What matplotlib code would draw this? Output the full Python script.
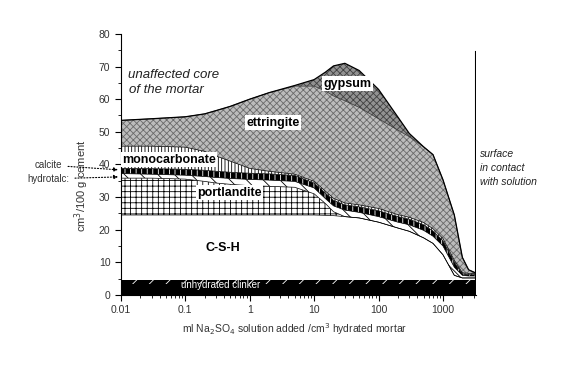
#sulfate attack on mortar: phase assemblage vs amount of Na2SO4 solution added

import matplotlib.pyplot as plt
from matplotlib.ticker import LogLocator, FixedLocator, NullFormatter, MultipleLocator

plt.rcParams['font.family'] = ['Liberation Sans', 'DejaVu Sans']
plt.rcParams['hatch.linewidth'] = 0.6

# ml Na2SO4 solution added / cm3 hydrated mortar
x = [0.01, 0.03, 0.1, 0.2, 0.3, 0.5, 1, 2, 5, 10, 15, 20, 30, 50, 100, 200,
     300, 500, 700, 1000, 1500, 2000, 2500, 3250]

# cumulative top of each phase, cm3/100 g cement
clinker_top = [4.7] * len(x)
csh_top = [24.5, 24.5, 24.5, 24.5, 24.5, 24.5, 24.5, 24.5, 24.5, 24.5, 24.4, 24.3,
           24.0, 23.6, 22.3, 20.5, 19.5, 17.5, 15.8, 12.3, 6.0, 5.2, 5.2, 5.2]
portl_top = [35.8, 35.8, 35.5, 34.8, 34.3, 33.9, 33.5, 33.3, 33.0, 31.0, 28.0, 25.5,
             24.0, 23.6, 22.3, 20.5, 19.5, 17.5, 15.8, 12.3, 6.0, 5.2, 5.2, 5.2]
hydro_top = [37.2, 37.0, 36.7, 36.3, 36.0, 35.7, 35.4, 35.2, 34.8, 32.8, 29.5, 27.3,
             26.0, 25.3, 24.0, 22.3, 21.5, 19.8, 18.0, 15.0, 8.5, 6.0, 5.8, 5.8]
calc_top = [38.8, 38.7, 38.5, 38.2, 37.9, 37.6, 37.3, 37.1, 36.6, 34.3, 31.2, 29.0,
            27.6, 27.0, 25.8, 24.0, 23.2, 21.5, 19.6, 16.6, 10.0, 6.5, 6.2, 6.2]
mono_top = [45.6, 45.6, 45.3, 44.0, 42.6, 41.0, 38.8, 37.9, 37.0, 34.8, 31.8, 29.6,
            28.2, 27.6, 26.5, 24.6, 23.8, 22.2, 20.3, 17.3, 10.6, 6.8, 6.6, 6.6]
ettr_top = [53.5, 54.0, 54.6, 55.5, 56.5, 57.8, 60.0, 62.0, 64.0, 64.0, 62.5, 61.0,
            59.5, 57.5, 54.0, 50.5, 48.5, 45.4, 43.0, 35.3, 24.5, 11.5, 7.7, 6.7]
gyps_top = [53.5, 54.0, 54.6, 55.5, 56.5, 57.8, 60.0, 62.0, 64.2, 66.0, 68.3, 70.2,
            71.0, 68.8, 63.0, 54.5, 49.5, 45.4, 43.0, 35.3, 24.5, 11.5, 7.7, 6.7]

fig = plt.figure(figsize=(5.7, 3.65), dpi=100)
ax = fig.add_axes([0.212, 0.192, 0.623, 0.715])

zero = [0] * len(x)
strip = [v - 1.4 for v in clinker_top]

# unhydrated clinker
ax.fill_between(x, zero, clinker_top, facecolor='black', lw=0)
ax.fill_between(x, strip, clinker_top, facecolor='black', edgecolor='white', hatch='//', lw=0)
# C-S-H
ax.fill_between(x, clinker_top, csh_top, facecolor='white', lw=0)
# portlandite
ax.fill_between(x, csh_top, portl_top, facecolor='white', edgecolor='black', hatch='+++', lw=0)
# hydrotalcite
ax.fill_between(x, portl_top, hydro_top, facecolor='white', edgecolor='black', hatch='\\\\', lw=0)
# calcite
ax.fill_between(x, hydro_top, calc_top, facecolor='black', edgecolor='white', hatch='|||', lw=0)
# monocarbonate
ax.fill_between(x, calc_top, mono_top, facecolor='white', edgecolor='black', hatch='|||||', lw=0)
# ettringite
ax.fill_between(x, mono_top, ettr_top, facecolor='#bcbcbc', edgecolor='#6a6a6a', hatch='xxxxx', lw=0)
# gypsum
ax.fill_between(x, ettr_top, gyps_top, facecolor='#929292', edgecolor='#404040', hatch='xxxxx', lw=0)

for top in [csh_top, portl_top, hydro_top, calc_top, mono_top]:
    ax.plot(x, top, color='black', lw=0.5)
ax.plot(x, ettr_top, color='#333333', lw=0.5)
ax.plot(x, gyps_top, color='black', lw=0.9)

ax.axvline(3250, ymin=0, ymax=74.6 / 80, color='black', lw=1.5)

ax.set_xscale('log')
ax.set_xlim(0.01, 3250)
ax.set_ylim(0, 80)
ax.spines['top'].set_visible(False)
ax.spines['right'].set_visible(False)
ax.xaxis.set_major_locator(FixedLocator([0.01, 0.1, 1, 10, 100, 1000]))
ax.xaxis.set_minor_locator(LogLocator(base=10, subs=range(2, 10)))
ax.xaxis.set_minor_formatter(NullFormatter())
ax.set_xticklabels(['0.01', '0.1', '1', '10', '100', '1000'])
ax.yaxis.set_major_locator(MultipleLocator(10))
ax.yaxis.set_minor_locator(MultipleLocator(5))
ax.tick_params(which='major', direction='out', length=4, labelsize=7.5, labelcolor='#333333')
ax.tick_params(which='minor', direction='out', length=2)

ax.set_xlabel('ml Na$_2$SO$_4$ solution added /cm$^3$ hydrated mortar', fontsize=7.5, color='#333333')
ax.xaxis.set_label_coords(0.49, -0.10)
ax.set_ylabel('cm$^3$/100 g cement', fontsize=8, color='#333333')
ax.yaxis.set_label_coords(-0.085, 0.42)

box = dict(facecolor='white', edgecolor='none', pad=1)
ax.text(0.0128, 67.5, 'unaffected core', fontsize=9.5, style='italic', va='center', color='#222222')
ax.text(0.0133, 62.9, 'of the mortar', fontsize=9.5, style='italic', va='center', color='#222222')
ax.text(33, 64.7, 'gypsum', fontsize=9, weight='bold', ha='center', va='center', bbox=box)
ax.text(2.3, 52.8, 'ettringite', fontsize=9, weight='bold', ha='center', va='center', bbox=box)
ax.text(0.0105, 41.4, 'monocarbonate', fontsize=9, weight='bold', ha='left', va='center', bbox=box)
ax.text(0.49, 31.3, 'portlandite', fontsize=9, weight='bold', ha='center', va='center', bbox=box)
ax.text(0.38, 14.4, 'C-S-H', fontsize=9, weight='bold', ha='center', va='center')
ax.text(0.35, 3.1, 'unhydrated clinker', fontsize=7, color='white', ha='center', va='center')

ax.text(1.012, 0.485, 'surface\nin contact\nwith solution', transform=ax.transAxes,
        fontsize=7.5, style='italic', va='center', ha='left', linespacing=1.5, color='#222222')

arrow = dict(arrowstyle='-|>', linestyle=':', color='black', lw=0.8, mutation_scale=6)
ax.annotate('calcite', xy=(0.01, 38.3), xytext=(-42, 3.5), textcoords='offset points',
            fontsize=7, color='#333333', ha='right', va='center', arrowprops=arrow,
            annotation_clip=False)
ax.annotate('hydrotalc:', xy=(0.01, 36.2), xytext=(-37, -1.5), textcoords='offset points',
            fontsize=7, color='#333333', ha='right', va='center', arrowprops=arrow,
            annotation_clip=False)

fig.savefig('out.png', dpi=100)
